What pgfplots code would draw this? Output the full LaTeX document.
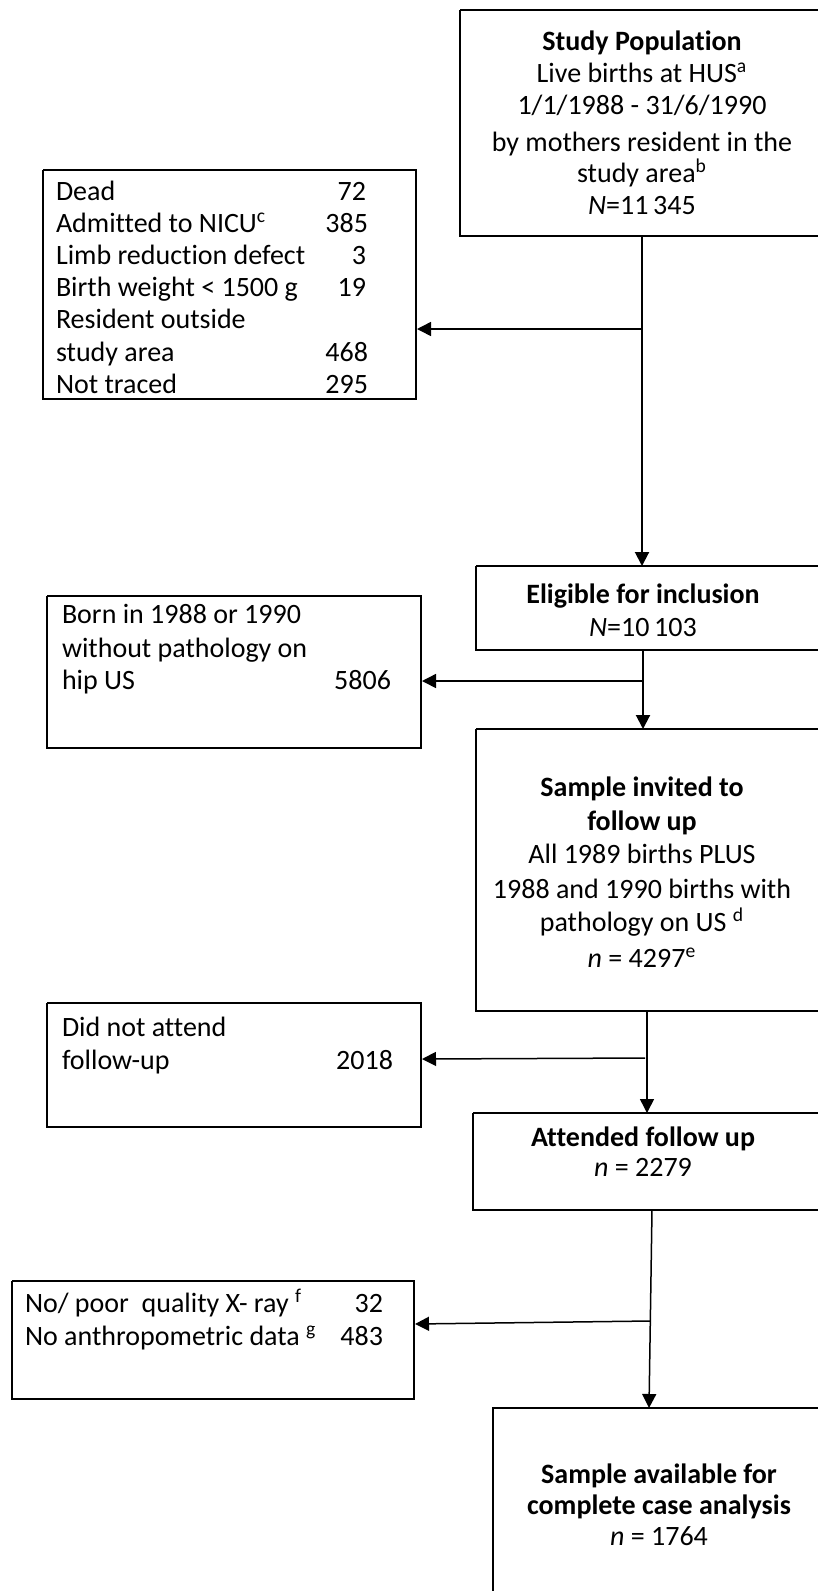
\documentclass[border=0pt]{standalone}
\usepackage{fontspec}
\setmainfont{Carlito}[RawFeature={-liga;-clig;-dlig;-calt}]
\usepackage{pgfplots}
\pgfplotsset{compat=1.18}
\usetikzlibrary{arrows.meta}
\begin{document}
\fontsize{14pt}{17pt}\selectfont
\begin{tikzpicture}[t/.style={inner sep=0pt, outer sep=0pt, font=\fontsize{14pt}{17pt}\selectfont}]
\begin{axis}[
  width=409pt, height=795.5pt, scale only axis,
  xmin=0, xmax=818, ymin=0, ymax=1591, y dir=reverse,
  hide axis, clip=true,
]
% ---------- boxes ----------
\pgfplotsset{box/.style={black, line width=1pt, line join=miter, forget plot}}
\pgfplotsset{arr/.style={black, line width=0.75pt, forget plot, -{Triangle[width=7pt,length=7pt]}}}
\addplot[box] coordinates {(460,10)(835,10)(835,236)(460,236)(460,10)};
\addplot[box] coordinates {(43,170)(416,170)(416,399)(43,399)(43,170)};
\addplot[box] coordinates {(476,566)(835,566)(835,650)(476,650)(476,566)};
\addplot[box] coordinates {(47,596)(421,596)(421,748)(47,748)(47,596)};
\addplot[box] coordinates {(476,729)(835,729)(835,1011)(476,1011)(476,729)};
\addplot[box] coordinates {(47,1003)(421,1003)(421,1127)(47,1127)(47,1003)};
\addplot[box] coordinates {(473,1113)(835,1113)(835,1210)(473,1210)(473,1113)};
\addplot[box] coordinates {(12,1281)(414,1281)(414,1399)(12,1399)(12,1281)};
\addplot[box] coordinates {(493,1600)(493,1408)(835,1408)};
% ---------- connectors ----------
\addplot[arr, line width=1pt] coordinates {(642,236)(642,566)};
\addplot[arr] coordinates {(642,329)(417,329)};
\addplot[arr, line width=1pt] coordinates {(643,650)(643,729)};
\addplot[arr] coordinates {(643,681)(422,681)};
\addplot[arr] coordinates {(647,1011)(647,1113)};
\addplot[arr] coordinates {(645,1058)(422,1059)};
\addplot[arr] coordinates {(652,1210)(649,1408)};
\addplot[arr] coordinates {(650,1321)(415,1324)};
% ---------- Study population ----------
\node[t, anchor=mid] at (axis cs:642,44) {\textbf{Study Population}};
\node[t, anchor=mid] at (axis cs:642,76) {Live births at HUS\textsuperscript{a}};
\node[t, anchor=mid] at (axis cs:642,108) {1/1/1988 - 31/6/1990};
\node[t, anchor=mid] at (axis cs:642,145) {by mothers resident in the};
\node[t, anchor=mid] at (axis cs:642,176) {study area\textsuperscript{b}};
\node[t, anchor=mid] at (axis cs:642,208) {\textit{N}=11\,345};
% ---------- exclusions 1 ----------
\node[t, anchor=mid west] at (axis cs:56,194) {Dead};
\node[t, anchor=mid west] at (axis cs:56,226) {Admitted to NICU\textsuperscript{c}};
\node[t, anchor=mid west] at (axis cs:56,258) {Limb reduction defect};
\node[t, anchor=mid west] at (axis cs:56,290) {Birth weight < 1500 g};
\node[t, anchor=mid west] at (axis cs:56,322) {Resident outside};
\node[t, anchor=mid west] at (axis cs:56,355) {study area};
\node[t, anchor=mid west] at (axis cs:56,387) {Not traced};
\node[t, anchor=mid east] at (axis cs:366,194) {72};
\node[t, anchor=mid east] at (axis cs:368,226) {385};
\node[t, anchor=mid east] at (axis cs:366,258) {3};
\node[t, anchor=mid east] at (axis cs:366,290) {19};
\node[t, anchor=mid east] at (axis cs:368,355) {468};
\node[t, anchor=mid east] at (axis cs:368,387) {295};
% ---------- eligible ----------
\node[t, anchor=mid] at (axis cs:643,597) {\textbf{Eligible for inclusion}};
\node[t, anchor=mid] at (axis cs:643,630) {\textit{N}=10\,103};
% ---------- exclusions 2 ----------
\node[t, anchor=mid west] at (axis cs:62,617) {Born in 1988 or 1990};
\node[t, anchor=mid west] at (axis cs:62,651) {without pathology on};
\node[t, anchor=mid west] at (axis cs:62,683) {hip US};
\node[t, anchor=mid east] at (axis cs:391,683) {5806};
% ---------- sample invited ----------
\node[t, anchor=mid] at (axis cs:642,790) {\textbf{Sample invited to}};
\node[t, anchor=mid] at (axis cs:642,824) {\textbf{follow up}};
\node[t, anchor=mid] at (axis cs:642,857) {All 1989 births PLUS};
\node[t, anchor=mid] at (axis cs:642,892) {1988 and 1990 births with};
\node[t, anchor=mid] at (axis cs:642,925) {pathology on US \textsuperscript{d}};
\node[t, anchor=mid] at (axis cs:642,961) {\textit{n} = 4297\textsuperscript{e}};
% ---------- exclusions 3 ----------
\node[t, anchor=mid west] at (axis cs:62,1030) {Did not attend};
\node[t, anchor=mid west] at (axis cs:62,1063) {follow-up};
\node[t, anchor=mid east] at (axis cs:393,1063) {2018};
% ---------- attended ----------
\node[t, anchor=mid] at (axis cs:643,1140) {\textbf{Attended follow up}};
\node[t, anchor=mid] at (axis cs:643,1170) {\textit{n} = 2279};
% ---------- exclusions 4 ----------
\node[t, anchor=mid west] at (axis cs:25,1306) {No/ poor\ \ quality X- ray \textsuperscript{f}};
\node[t, anchor=mid west] at (axis cs:25,1339) {No anthropometric data \textsuperscript{g}};
\node[t, anchor=mid east] at (axis cs:383,1306) {32};
\node[t, anchor=mid east] at (axis cs:383,1339) {483};
% ---------- final ----------
\node[t, anchor=mid] at (axis cs:659,1477) {\textbf{Sample available for}};
\node[t, anchor=mid] at (axis cs:659,1508) {\textbf{complete case analysis}};
\node[t, anchor=mid] at (axis cs:659,1539) {\textit{n} = 1764};
\end{axis}
\pgfresetboundingbox
\path[use as bounding box] (current axis.south west) rectangle (current axis.north east);
\end{tikzpicture}
\end{document}
